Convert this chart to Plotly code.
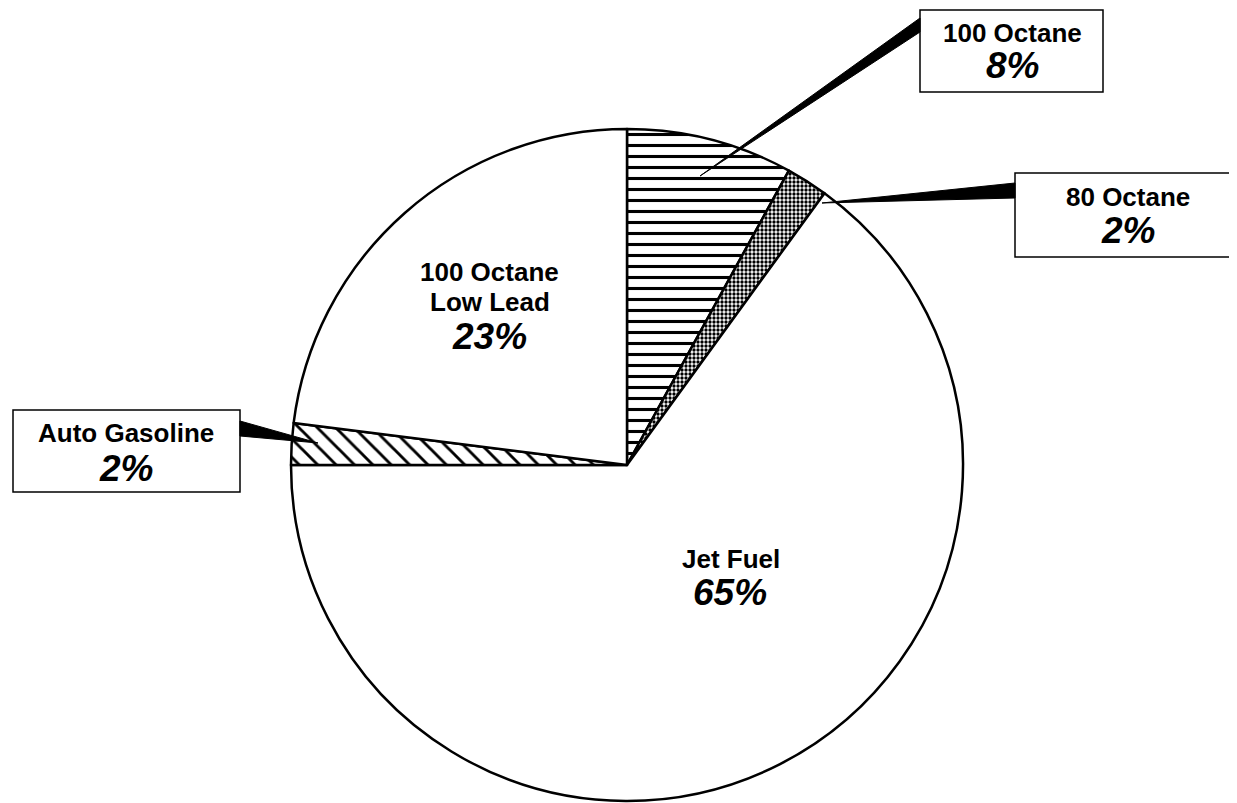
import plotly.graph_objects as go

# Page is offset by the default 8px body margin; size the figure to fit the window
OFF = 8
W, H = 1237 - OFF, 803 - OFF

# Data (clockwise from 12 o'clock)
categories = ["100 Octane", "80 Octane", "Jet Fuel", "Auto Gasoline", "100 Octane Low Lead"]
values = [8, 2, 65, 2, 23]
pct_labels = ["8%", "2%", "65%", "2%", "23%"]

def px(x):
    return (x - OFF) / W

def py(y):
    return 1 - (y - OFF) / H

cx, cy, r = 627, 465, 336

fig = go.Figure()
fig.add_trace(go.Pie(
    labels=categories,
    values=values,
    sort=False,
    direction="clockwise",
    rotation=0,
    textinfo="none",
    hoverinfo="label+percent",
    showlegend=False,
    domain=dict(x=[px(cx - r), px(cx + r)], y=[max(0, py(cy + r)), py(cy - r)]),
    marker=dict(
        colors=["white"] * 5,
        line=dict(color="black", width=2.5),
        pattern=dict(
            shape=["-", ".", "", "\\", ""],
            fgcolor="black",
            bgcolor="white",
            size=[11, 4, 8, 13, 8],
            solidity=[0.28, 0.55, 0.3, 0.22, 0.3],
        ),
    ),
))

LBL = dict(family="Liberation Sans, Arial, sans-serif", size=26, color="black")
PCT = dict(family="Liberation Sans, Arial, sans-serif", size=37, color="black")

shapes = []
annotations = []

def box(x0, y0, x1, y1):
    shapes.append(dict(type="rect", xref="paper", yref="paper",
                       x0=px(x0), x1=px(x1), y0=py(y1), y1=py(y0),
                       line=dict(color="black", width=1.5), fillcolor="white", layer="above"))

def wedge(pts):
    path = "M " + " L ".join(f"{px(a):.5f},{py(b):.5f}" for a, b in pts) + " Z"
    shapes.append(dict(type="path", xref="paper", yref="paper", path=path,
                       fillcolor="black", line=dict(color="black", width=1), layer="above"))

def text(x, y, s, font):
    annotations.append(dict(x=px(x), y=py(y), xref="paper", yref="paper",
                            text=s, showarrow=False, font=font,
                            xanchor="center", yanchor="middle"))

# Boxed labels with leader wedges
box(920, 10, 1103, 92)
wedge([(920, 18), (920, 32), (700, 176)])
text(1012, 33, "<b>" + categories[0] + "</b>", LBL)
text(1012, 66, "<b><i>" + pct_labels[0] + "</i></b>", PCT)

box(1015, 173, 1245, 257)
wedge([(1015, 183), (1015, 198), (822, 203)])
text(1128, 197, "<b>" + categories[1] + "</b>", LBL)
text(1128, 231, "<b><i>" + pct_labels[1] + "</i></b>", PCT)

box(13, 410, 240, 492)
wedge([(240, 421), (240, 436), (318, 443)])
text(126, 433, "<b>" + categories[3] + "</b>", LBL)
text(126, 468, "<b><i>" + pct_labels[3] + "</i></b>", PCT)

# Inside labels
text(490, 272, "<b>100 Octane</b>", LBL)
text(490, 302, "<b>Low Lead</b>", LBL)
text(490, 336, "<b><i>" + pct_labels[4] + "</i></b>", PCT)

text(731, 559, "<b>" + categories[2] + "</b>", LBL)
text(730, 592, "<b><i>" + pct_labels[2] + "</i></b>", PCT)

fig.update_layout(
    width=W, height=H, autosize=False,
    margin=dict(l=0, r=0, t=0, b=0),
    paper_bgcolor="white", plot_bgcolor="white",
    shapes=shapes, annotations=annotations,
)

fig.write_html("out.html")
